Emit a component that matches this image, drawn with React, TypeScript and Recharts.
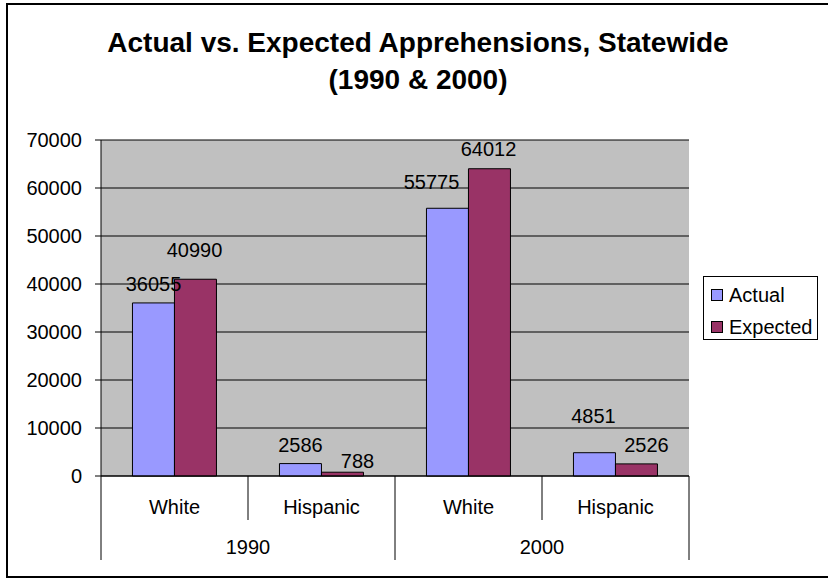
import React from "react";
import { BarChart, Bar, XAxis, YAxis, CartesianGrid, LabelList } from "recharts";

const years = ["1990", "1990", "2000", "2000"];
const groups = ["White", "Hispanic", "White", "Hispanic"];
const actual = [36055, 2586, 55775, 4851];
const expected = [40990, 788, 64012, 2526];
const yTicks = [0, 10000, 20000, 30000, 40000, 50000, 60000, 70000];

const series = [
  { key: "actual", name: "Actual", color: "#9999FF" },
  { key: "expected", name: "Expected", color: "#993366" },
];

// Excel nudged a few value labels around to avoid overlaps
const labelNudge: Record<string, { dx: number; dy: number }[]> = {
  actual: [{ dx: 0, dy: 0 }, { dx: 0, dy: 0 }, { dx: -16, dy: -7 }, { dx: -1, dy: -18 }],
  expected: [{ dx: -1, dy: -10 }, { dx: 15, dy: 8 }, { dx: -1, dy: -1 }, { dx: 10, dy: 0 }],
};

const data = groups.map((g, i) => ({
  race: g,
  year: years[i],
  actual: actual[i],
  expected: expected[i],
}));

const FONT = "'Liberation Sans', Arial, sans-serif";
const W = 828;
const H = 578;
const M = { top: 140, right: 139, bottom: 0, left: 7 };
const Y_AXIS_W = 94;
const X_AXIS_H = 102;
const PLOT_W = W - M.left - M.right - Y_AXIS_W;
const BAND = PLOT_W / data.length;

function XTick(props: any) {
  const { x, y, payload, index } = props;
  const left = x - BAND / 2;
  const newYear = index === 0 || years[index] !== years[index - 1];
  const isLast = index === data.length - 1;
  // span of this year's group
  let n = 0;
  for (let j = index; j < years.length && years[j] === years[index]; j++) n++;
  return (
    <g>
      <line x1={left} y1={y} x2={left} y2={y + (newYear ? 84 : 44)} stroke="#000" />
      {isLast && <line x1={left + BAND} y1={y} x2={left + BAND} y2={y + 84} stroke="#000" />}
      <text x={x} y={y + 31} textAnchor="middle" dominantBaseline="central" fontSize={20} fontFamily={FONT} fill="#000">
        {payload.value}
      </text>
      {newYear && (
        <text x={left + (BAND * n) / 2} y={y + 71} textAnchor="middle" dominantBaseline="central" fontSize={20} fontFamily={FONT} fill="#000">
          {years[index]}
        </text>
      )}
    </g>
  );
}

function valueLabel(key: string) {
  return (props: any) => {
    const { x, y, width, value, index } = props;
    const n = labelNudge[key][index] || { dx: 0, dy: 0 };
    return (
      <text x={x + width / 2 + n.dx} y={y - 19 + n.dy} textAnchor="middle" dominantBaseline="central" fontSize={20} fontFamily={FONT} fill="#000">
        {value}
      </text>
    );
  };
}

export default function App() {
  return (
    <div style={{ position: "absolute", left: 0, top: 0, width: W, height: H, background: "#fff", overflow: "hidden", fontFamily: FONT }}>
      <div style={{ position: "absolute", left: 6, top: 3, width: 840, height: 571, border: "2px solid #000" }} />
      <div style={{ position: "absolute", left: 18, width: 800, top: 24, textAlign: "center", fontWeight: "bold", fontSize: 28, lineHeight: "37px", color: "#000" }}>
        Actual vs. Expected Apprehensions, Statewide
        <br />
        (1990 &amp; 2000)
      </div>
      <div style={{ position: "absolute", left: 0, top: 0 }}>
        <BarChart width={W} height={H} data={data} margin={M} barCategoryGap="21.4%" barGap={0}>
          <CartesianGrid vertical={false} stroke="#000" fill="#C0C0C0" fillOpacity={1} />
          <XAxis
            dataKey="race"
            height={X_AXIS_H}
            axisLine={{ stroke: "#000" }}
            tickLine={false}
            tickSize={0}
            tickMargin={0}
            interval={0}
            tick={<XTick />}
          />
          <YAxis
            width={Y_AXIS_W}
            domain={[0, 70000]}
            ticks={yTicks}
            interval={0}
            axisLine={{ stroke: "#000" }}
            tickLine={{ stroke: "#000" }}
            tickSize={6}
            tickMargin={13}
            tick={{ fontSize: 20, fontFamily: FONT, fill: "#000" }}
          />
          {series.map(s => (
            <Bar key={s.key} dataKey={s.key} name={s.name} fill={s.color} stroke="#000" strokeWidth={1} isAnimationActive={false}>
              <LabelList dataKey={s.key} content={valueLabel(s.key)} />
            </Bar>
          ))}
        </BarChart>
      </div>
      <div style={{ position: "absolute", left: 703, top: 276, width: 113, height: 62, border: "1px solid #000", background: "#fff" }}>
        {series.map((s, i) => (
          <div key={s.key} style={{ position: "absolute", left: 7, top: 6 + i * 32, height: 24, display: "flex", alignItems: "center", fontSize: 20, color: "#000", whiteSpace: "nowrap" }}>
            <span style={{ display: "inline-block", width: 10, height: 10, background: s.color, border: "1px solid #000", marginRight: 6 }} />
            {s.name}
          </div>
        ))}
      </div>
    </div>
  );
}
